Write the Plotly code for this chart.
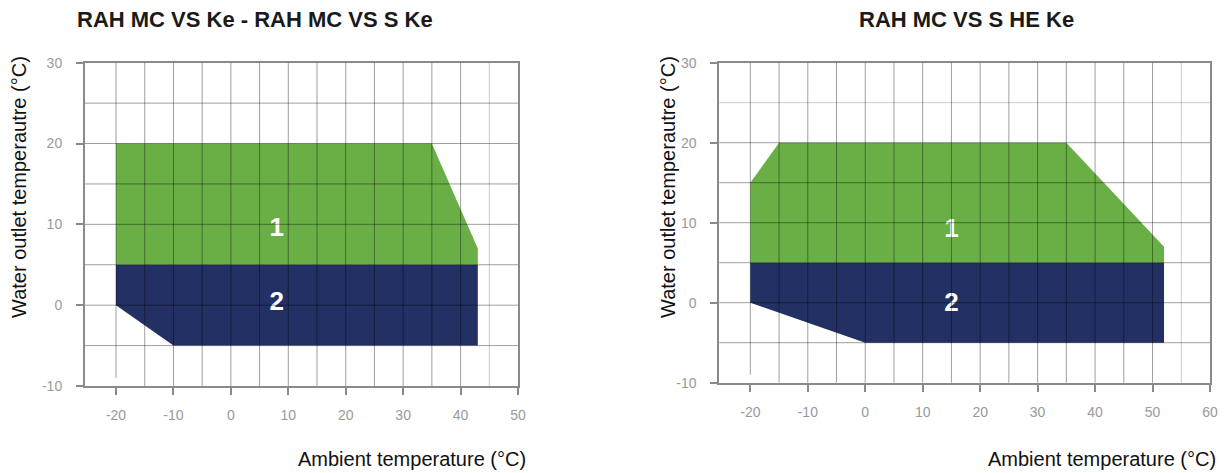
import plotly.graph_objects as go

# ---- data ----
titles = ["RAH MC VS Ke - RAH MC VS S Ke", "RAH MC VS S HE Ke"]
x_title = "Ambient temperature (°C)"
y_title = "Water outlet temperautre (°C)"

# Left chart envelope (ambient, water outlet)
left_zone1_x = [-20, -20, 35, 43, 43]
left_zone1_y = [5, 20, 20, 7, 5]
left_zone2_x = [-20, -20, -10, 43, 43]
left_zone2_y = [5, 0, -5, -5, 5]
left_labels_x = [8, 8]
left_labels_y = [9.3, 0.2]

# Right chart envelope
right_zone1_x = [-20, -20, -15, 35, 52, 52]
right_zone1_y = [5, 15, 20, 20, 7, 5]
right_zone2_x = [-20, -20, 0, 52, 52]
right_zone2_y = [5, 0, -5, -5, 5]
right_labels_x = [15, 15]
right_labels_y = [9.0, -0.2]

zone_names = ["1", "2"]

left_xticks = [-20, -10, 0, 10, 20, 30, 40, 50]
left_xticktext = ["-20", "-10", "0", "10", "20", "30", "40", "50"]
right_xticks = [-20, -10, 0, 10, 20, 30, 40, 50, 60]
right_xticktext = ["-20", "-10", "0", "10", "20", "30", "40", "50", "60"]
yticks = [-10, 0, 10, 20, 30]
yticktext = ["-10", "0", "10", "20", "30"]
left_xgrid = [-20, -15, -10, -5, 0, 5, 10, 15, 20, 25, 30, 35, 40]
left_xgrid_light = [45]
right_xgrid = [-20, -15, -10, -5, 0, 5, 10, 15, 20, 25, 30, 35, 40, 45, 50]
right_xgrid_light = [55]
left_ygrid = [-5, 0, 5, 10, 15, 20, 25]
left_ygrid_light = []
right_ygrid = [-5, 0, 5, 10, 15, 20]
right_ygrid_light = [25]

GREEN = "#69AF45"
NAVY = "#223063"
AXIS = "#8a8a8a"
FONT = "Liberation Sans, Arial, sans-serif"

W, H = 1230, 473

fig = go.Figure()

def add_zone(x, y, color, xa, ya):
    fig.add_trace(go.Scatter(x=x, y=y, fill="toself", fillcolor=color, mode="lines",
                             line=dict(width=0, color=color), xaxis=xa, yaxis=ya,
                             hoverinfo="skip", showlegend=False))

add_zone(left_zone1_x, left_zone1_y, GREEN, "x", "y")
add_zone(left_zone2_x, left_zone2_y, NAVY, "x", "y")
add_zone(right_zone1_x, right_zone1_y, GREEN, "x2", "y2")
add_zone(right_zone2_x, right_zone2_y, NAVY, "x2", "y2")

for xs, ys, xa, ya in [(left_labels_x, left_labels_y, "x", "y"),
                       (right_labels_x, right_labels_y, "x2", "y2")]:
    fig.add_trace(go.Scatter(x=xs, y=ys, text=zone_names, mode="text", xaxis=xa, yaxis=ya,
                             textfont=dict(family=FONT, size=26, color="white", weight="bold"),
                             hoverinfo="skip", showlegend=False))

# gridlines drawn above the fills, semi-transparent
def grid(xvals, yvals, xr, yr, color, first_short=None):
    for v in xvals:
        if first_short is not None and v == xvals[0]:
            fig.add_shape(type="line", xref=xr, yref=yr, x0=v, x1=v, y0=first_short, y1=30,
                          line=dict(color=color, width=1), layer="above")
        else:
            fig.add_shape(type="line", xref=xr, yref=yr + " domain", x0=v, x1=v, y0=0, y1=1,
                          line=dict(color=color, width=1), layer="above")
    for v in yvals:
        fig.add_shape(type="line", xref=xr + " domain", yref=yr, x0=0, x1=1, y0=v, y1=v,
                      line=dict(color=color, width=1), layer="above")

grid(left_xgrid, left_ygrid, "x", "y", "rgba(0,0,0,0.38)", first_short=-9)
grid(left_xgrid_light, left_ygrid_light, "x", "y", "rgba(0,0,0,0.2)")
grid(right_xgrid, right_ygrid, "x2", "y2", "rgba(0,0,0,0.38)", first_short=-9)
grid(right_xgrid_light, right_ygrid_light, "x2", "y2", "rgba(0,0,0,0.2)")

def px_x(p):
    return p / W

def px_y(p):
    return 1 - p / H

axis_common = dict(showgrid=False, zeroline=False, showline=True, mirror=True,
                   linecolor=AXIS, linewidth=2, ticks="outside", ticklen=7, tickwidth=2,
                   tickcolor=AXIS, tickfont=dict(family=FONT, size=14, color="#9a9a9a"),
                   layer="above traces", fixedrange=True, automargin=False)

fig.update_layout(
    template="none",
    width=W, height=H,
    margin=dict(l=0, r=0, t=0, b=0, pad=0),
    paper_bgcolor="white", plot_bgcolor="white",
    showlegend=False,
    xaxis=dict(domain=[px_x(85), px_x(518)], range=[-25.4, 50], tickvals=left_xticks,
               ticktext=left_xticktext, anchor="y", ticklabelstandoff=8, **axis_common),
    yaxis=dict(domain=[px_y(386), px_y(62.7)], range=[-10, 30], tickvals=yticks,
               ticktext=yticktext, anchor="x", ticklabelstandoff=11, **axis_common),
    xaxis2=dict(domain=[px_x(719.3), px_x(1210)], range=[-25.4, 60], tickvals=right_xticks,
                ticktext=right_xticktext, anchor="y2", ticklabelstandoff=8, **axis_common),
    yaxis2=dict(domain=[px_y(382.7), px_y(62.7)], range=[-10, 30], tickvals=yticks,
                ticktext=yticktext, anchor="x2", ticklabelstandoff=11, **axis_common),
)

TITLEFONT = dict(family=FONT, size=22, color="#1a1a1a", weight="bold")
LABELFONT = dict(family=FONT, size=20, color="#111111")

fig.add_annotation(text=titles[0], xref="paper", yref="paper", x=px_x(255), y=px_y(19.5),
                   xanchor="center", yanchor="middle", showarrow=False, font=TITLEFONT)
fig.add_annotation(text=titles[1], xref="paper", yref="paper", x=px_x(966), y=px_y(19.5),
                   xanchor="center", yanchor="middle", showarrow=False, font=TITLEFONT)

fig.add_annotation(text=x_title, xref="paper", yref="paper", x=px_x(528), y=px_y(459),
                   xanchor="right", yanchor="middle", showarrow=False, font=LABELFONT)
fig.add_annotation(text=x_title, xref="paper", yref="paper", x=px_x(1218), y=px_y(459),
                   xanchor="right", yanchor="middle", showarrow=False, font=LABELFONT)

fig.add_annotation(text=y_title, xref="paper", yref="paper", x=px_x(19), y=px_y(187),
                   xanchor="center", yanchor="middle", textangle=-90, showarrow=False, font=LABELFONT)
fig.add_annotation(text=y_title, xref="paper", yref="paper", x=px_x(668), y=px_y(187),
                   xanchor="center", yanchor="middle", textangle=-90, showarrow=False, font=LABELFONT)

fig.write_html("out.html", config={"displayModeBar": False},
               post_script="document.body.style.margin='0';")
